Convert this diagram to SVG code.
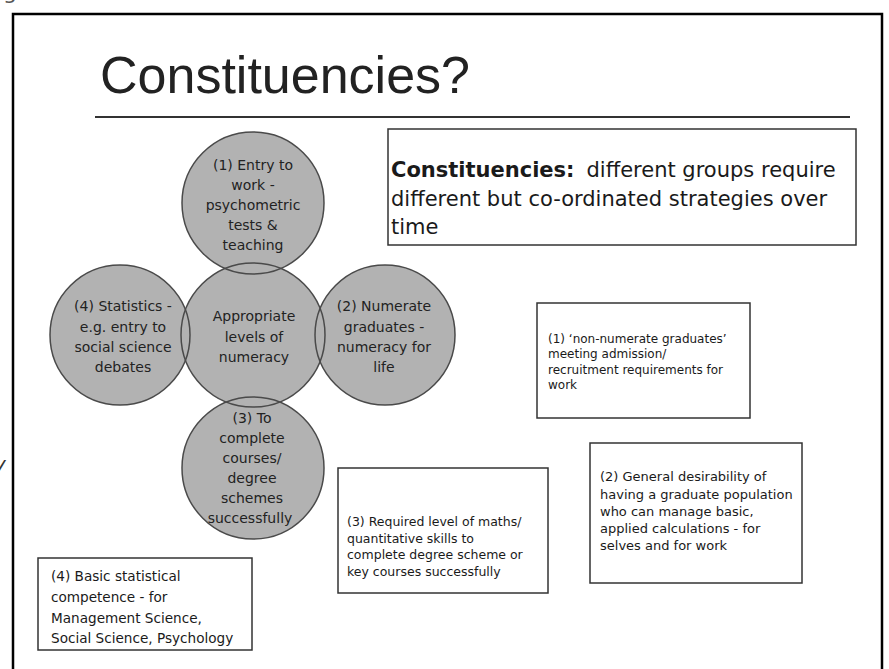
<svg xmlns="http://www.w3.org/2000/svg" width="889" height="669" viewBox="0 0 889 669">
<style>
.c{fill:#b2b2b2;stroke:none}
.co{fill:none;stroke:#4a4a4a;stroke-width:1.5}
.ct{font-family:"DejaVu Sans",sans-serif;font-size:14px;fill:#222;text-anchor:middle}
.box{fill:#fff;stroke:#333;stroke-width:1.5}
.bt{font-family:"DejaVu Sans",sans-serif;fill:#1a1a1a}
</style>
<rect width="889" height="669" fill="#fff"/>
<text x="3" y="-1" font-family="DejaVu Sans,sans-serif" font-size="22" fill="#555">g about the</text>
<text x="-6" y="471" font-family="DejaVu Sans,sans-serif" font-size="20" font-style="italic" fill="#333">y</text>
<path d="M13,669 V14 H882 V669" fill="none" stroke="#000" stroke-width="2.5"/>
<g id="title">
<text x="100" y="93" font-family="Liberation Sans,Arial,sans-serif" font-size="52" fill="#222">Constituencies?</text>
<line x1="95" y1="117" x2="850" y2="117" stroke="#333" stroke-width="1.8"/>
</g>
<g id="circle-fills">
<circle class="c" cx="253" cy="203" r="71"/>
<circle class="c" cx="120" cy="335" r="70"/>
<circle class="c" cx="385" cy="335" r="70"/>
<circle class="c" cx="253" cy="468" r="71"/>
<circle class="c" cx="253" cy="335" r="72"/>
</g>
<g id="connectors"></g>
<g id="n-entry">
<circle class="co" cx="253" cy="203" r="71"/>
<text class="ct" x="253"><tspan x="253" y="170">(1) Entry to</tspan><tspan x="253" y="190">work -</tspan><tspan x="253" y="210">psychometric</tspan><tspan x="253" y="230">tests &amp;</tspan><tspan x="253" y="250">teaching</tspan></text>
</g>
<g id="n-stats">
<circle class="co" cx="120" cy="335" r="70"/>
<text class="ct"><tspan x="123" y="311">(4) Statistics -</tspan><tspan x="123" y="332">e.g. entry to</tspan><tspan x="123" y="352">social science</tspan><tspan x="123" y="372">debates</tspan></text>
</g>
<g id="n-numerate">
<circle class="co" cx="385" cy="335" r="70"/>
<text class="ct"><tspan x="384" y="311">(2) Numerate</tspan><tspan x="384" y="332">graduates -</tspan><tspan x="384" y="352">numeracy for</tspan><tspan x="384" y="372">life</tspan></text>
</g>
<g id="n-courses">
<circle class="co" cx="253" cy="468" r="71"/>
<text class="ct"><tspan x="252" y="423">(3) To</tspan><tspan x="252" y="443">complete</tspan><tspan x="252" y="463">courses/</tspan><tspan x="252" y="483">degree</tspan><tspan x="252" y="503">schemes</tspan><tspan x="250" y="523">successfully</tspan></text>
</g>
<g id="n-centre">
<circle class="co" cx="253" cy="335" r="72"/>
<text class="ct"><tspan x="254" y="321">Appropriate</tspan><tspan x="254" y="342">levels of</tspan><tspan x="254" y="362">numeracy</tspan></text>
</g>
<g id="b-constituencies">
<rect class="box" x="388" y="129" width="468" height="116"/>
<text class="bt" font-size="21"><tspan x="391" y="177" font-weight="bold">Constituencies:</tspan><tspan dx="12">different groups require</tspan><tspan x="391" y="206">different but co-ordinated strategies over</tspan><tspan x="391" y="234">time</tspan></text>
</g>
<g id="b-1">
<rect class="box" x="537" y="303" width="213" height="115"/>
<text class="bt" font-size="12"><tspan x="548" y="343">(1) ‘non-numerate graduates’</tspan><tspan x="548" y="358">meeting admission/</tspan><tspan x="548" y="374">recruitment requirements for</tspan><tspan x="548" y="389">work</tspan></text>
</g>
<g id="b-3">
<rect class="box" x="338" y="468" width="210" height="125"/>
<text class="bt" font-size="12.5"><tspan x="347" y="526">(3) Required level of maths/</tspan><tspan x="347" y="543">quantitative skills to</tspan><tspan x="347" y="559">complete degree scheme or</tspan><tspan x="347" y="576">key courses successfully</tspan></text>
</g>
<g id="b-2">
<rect class="box" x="590" y="443" width="212" height="140"/>
<text class="bt" font-size="13"><tspan x="600" y="481">(2) General desirability of</tspan><tspan x="600" y="499">having a graduate population</tspan><tspan x="600" y="516">who can manage basic,</tspan><tspan x="600" y="533">applied calculations - for</tspan><tspan x="600" y="550">selves and for work</tspan></text>
</g>
<g id="b-4">
<rect class="box" x="38" y="558" width="214" height="92"/>
<text class="bt" font-size="13.6"><tspan x="51" y="581">(4) Basic statistical</tspan><tspan x="51" y="602">competence - for</tspan><tspan x="51" y="623">Management Science,</tspan><tspan x="51" y="643">Social Science, Psychology</tspan></text>
</g>
</svg>
